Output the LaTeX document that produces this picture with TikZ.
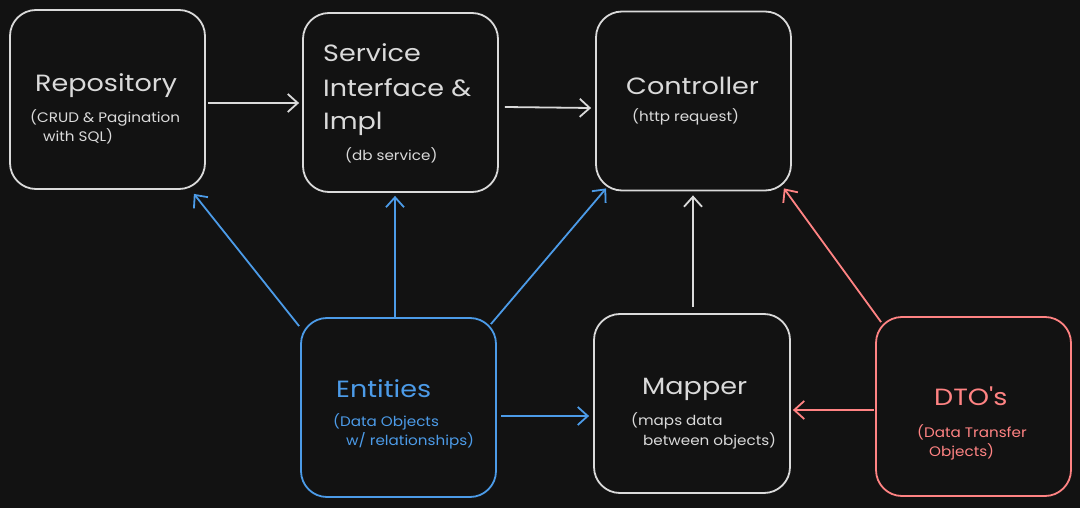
\documentclass[tikz,border=0pt]{standalone}
\usepackage{fontspec}
\setmainfont{Poppins}
\newfontfamily\ttlfont[FakeStretch=1.15]{Poppins}
\newfontfamily\subfont[FakeStretch=1.1]{Poppins}
\usetikzlibrary{arrows.meta}
\definecolor{bg}{HTML}{121212}
\definecolor{wht}{HTML}{DADADA}
\definecolor{blu}{HTML}{4C9BE8}
\definecolor{rd}{HTML}{FF8383}
\tikzset{
  box/.style={draw, line width=1.8pt, rounded corners=26pt, minimum width=195pt, minimum height=179pt, inner sep=0pt},
  ttl/.style={anchor=base west, inner sep=0pt, font=\ttlfont\fontsize{23.5}{26}\selectfont},
  sub/.style={anchor=base west, inner sep=0pt, font=\subfont\fontsize{13.8}{16}\selectfont},
  conn/.style={line width=1.8pt, -{Straight Barb[length=10pt,width=18pt,line width=1.8pt]}},
}
\begin{document}
\begin{tikzpicture}[x=1pt,y=-1pt]
\fill[bg] (0,0) rectangle (1080,508);
\useasboundingbox (0,0) rectangle (1080,508);
% boxes
\node[box, wht] (repo) at (107.5,99.5) {};
\node[box, wht] (svc) at (400.5,102.5) {};
\node[box, wht] (ctrl) at (693.5,101) {};
\node[box, blu] (ent) at (398.5,407.5) {};
\node[box, wht, minimum width=196pt] (map) at (692,403.5) {};
\node[box, rd] (dto) at (973.5,406.5) {};
% texts
\node[ttl, text=wht] (repoT) at (35,92) {Repository};
\node[sub, text=wht] (repoS1) at (30,123) {(CRUD \& Pagination};
\node[sub, text=wht] (repoS2) at (43,142) {with SQL)};
\node[ttl, text=wht] (svcT1) at (323,62) {Service};
\node[ttl, text=wht] (svcT2) at (323,97) {Interface \&};
\node[ttl, text=wht] (svcT3) at (323,130) {Impl};
\node[sub, text=wht] (svcS) at (345,161) {(db service)};
\node[ttl, text=wht] (ctrlT) at (626,95) {Controller};
\node[sub, text=wht] (ctrlS) at (632,122) {(http request)};
\node[ttl, text=blu] (entT) at (336,397) {Entities};
\node[sub, text=blu] (entS1) at (333,426) {(Data Objects};
\node[sub, text=blu] (entS2) at (346,445) {w/ relationships)};
\node[ttl, text=wht] (mapT) at (642,394) {Mapper};
\node[sub, text=wht] (mapS1) at (631,425) {(maps data};
\node[sub, text=wht] (mapS2) at (643,445) {between objects)};
\node[ttl, text=rd] (dtoT) at (934,405) {DTO's};
\node[sub, text=rd] (dtoS1) at (917,437) {(Data Transfer};
\node[sub, text=rd] (dtoS2) at (929,456) {Objects)};
% connectors
\draw[conn, wht] ([xshift=2pt,yshift=-3.5pt]repo.east) -- ([xshift=-3pt,yshift=-0.5pt]svc.west);
\draw[conn, wht] ([xshift=6pt,yshift=-4.5pt]svc.east) -- ([xshift=-4pt,yshift=-7pt]ctrl.west);
\draw[conn, wht] ([xshift=1pt,yshift=6pt]map.north) -- ([xshift=-0.5pt,yshift=-4pt]ctrl.south);
\draw[conn, blu] ([xshift=-1pt,yshift=-9pt]ent.north west) -- ([xshift=-12pt,yshift=-4pt]repo.south east);
\draw[conn, blu] ([xshift=-3.5pt]ent.north) -- ([xshift=-5.5pt,yshift=-3pt]svc.south);
\draw[conn, blu] ([xshift=-6pt,yshift=-7pt]ent.north east) -- ([xshift=11pt,yshift=3pt]ctrl.south west);
\draw[conn, blu] ([xshift=4pt,yshift=-8.5pt]ent.east) -- ([xshift=-4pt,yshift=-12.5pt]map.west);
\draw[conn, rd] ([xshift=6pt,yshift=-6pt]dto.north west) -- ([xshift=-8pt,yshift=3pt]ctrl.south east);
\draw[conn, rd] ([xshift=-1pt,yshift=-3.5pt]dto.west) -- ([xshift=2pt,yshift=-6.5pt]map.east);
\end{tikzpicture}
\end{document}
